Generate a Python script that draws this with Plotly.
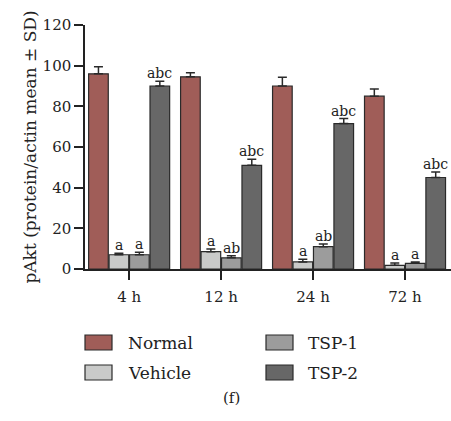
import plotly.graph_objects as go

times = ["4 h", "12 h", "24 h", "72 h"]
groups = ["Normal", "Vehicle", "TSP-1", "TSP-2"]
normal = [96, 94.5, 90, 85]
normal_sd = [3.5, 2.0, 4.3, 3.5]
vehicle = [7, 8.5, 3.5, 1.8]
vehicle_sd = [0.8, 1.3, 1.3, 1.1]
tsp1 = [7, 5.5, 11, 2.8]
tsp1_sd = [1.2, 1.0, 1.3, 0.7]
tsp2 = [90, 51, 71.5, 45]
tsp2_sd = [2.3, 3.0, 2.5, 2.7]
letters_vehicle = ["a", "a", "a", "a"]
letters_tsp1 = ["a", "ab", "ab", "a"]
letters_tsp2 = ["abc", "abc", "abc", "abc"]

colors = ["#a05d58", "#c9cac9", "#9c9c9c", "#676767"]
FONT = "DejaVu Serif"

series = [normal, vehicle, tsp1, tsp2]
sds = [normal_sd, vehicle_sd, tsp1_sd, tsp2_sd]
letters = [None, letters_vehicle, letters_tsp1, letters_tsp2]

bargap = 0.11
w = (1 - bargap) / 4
xs = list(range(len(times)))

fig = go.Figure()
for j, (name, vals, sd, col) in enumerate(zip(groups, series, sds, colors)):
    fig.add_trace(go.Bar(
        x=xs, y=vals, name=name, marker=dict(color=col, line=dict(color="#2a2a2a", width=1.2)),
        error_y=dict(type="data", array=sd, arrayminus=[0] * len(sd), symmetric=False,
                     color="#2a2a2a", thickness=1.5, width=4.5),
        showlegend=False,
    ))
    if letters[j]:
        for i in xs:
            fig.add_annotation(x=i + (j - 1.5) * w, y=vals[i] + sd[i], text=letters[j][i],
                               showarrow=False, yanchor="bottom", yshift=-2,
                               font=dict(family=FONT, size=14, color="#222"))

L, T, PW, PH = 85, 25, 366, 244
W, H = 451, 421
def px(x): return (x - L) / PW
def py(y): return (T + PH - y) / PH

legend_pos = [(85, 335, 126, 343), (85, 365, 126, 373), (266, 335, 306, 343), (266, 365, 306, 373)]
for name, col, (sx, sy, tx, ty) in zip(groups, colors, legend_pos):
    fig.add_shape(type="rect", xref="paper", yref="paper", x0=px(sx), x1=px(sx + 27),
                  y0=py(sy), y1=py(sy + 15), fillcolor=col, line=dict(color="#2a2a2a", width=1.2))
    fig.add_annotation(xref="paper", yref="paper", x=px(tx), y=py(ty), text=name, showarrow=False,
                       xanchor="left", yanchor="middle", font=dict(family=FONT, size=17, color="#222"))

fig.add_annotation(xref="paper", yref="paper", x=px(231), y=py(398), text="(f)", showarrow=False,
                   xanchor="center", yanchor="middle", font=dict(family=FONT, size=15, color="#222"))

fig.update_layout(
    width=W, height=H, margin=dict(l=L, r=W - L - PW, t=T, b=H - T - PH, autoexpand=False),
    paper_bgcolor="white", plot_bgcolor="white", barmode="group", bargap=bargap, bargroupgap=0.04,
    font=dict(family=FONT, size=15, color="#222"),
    xaxis=dict(tickmode="array", tickvals=xs, ticktext=times, range=[-0.48, 3.5],
               showline=True, linecolor="#222", linewidth=1.5, ticks="outside", ticklen=9,
               tickwidth=1.5, tickcolor="#222", showgrid=False, zeroline=False,
               ticklabelstandoff=4, tickfont=dict(family=FONT, size=15)),
    yaxis=dict(range=[0, 120], dtick=20, showline=True, linecolor="#222", linewidth=1.5,
               ticks="outside", ticklen=9, tickwidth=1.5, tickcolor="#222", showgrid=False,
               zeroline=False, tickfont=dict(family=FONT, size=15),
               title=dict(text="pAkt (protein/actin mean ± SD)", font=dict(family=FONT, size=17),
                          standoff=2)),
)
fig.write_html("out.html", config={"displayModeBar": False},
               post_script="document.body.style.margin='0';")
